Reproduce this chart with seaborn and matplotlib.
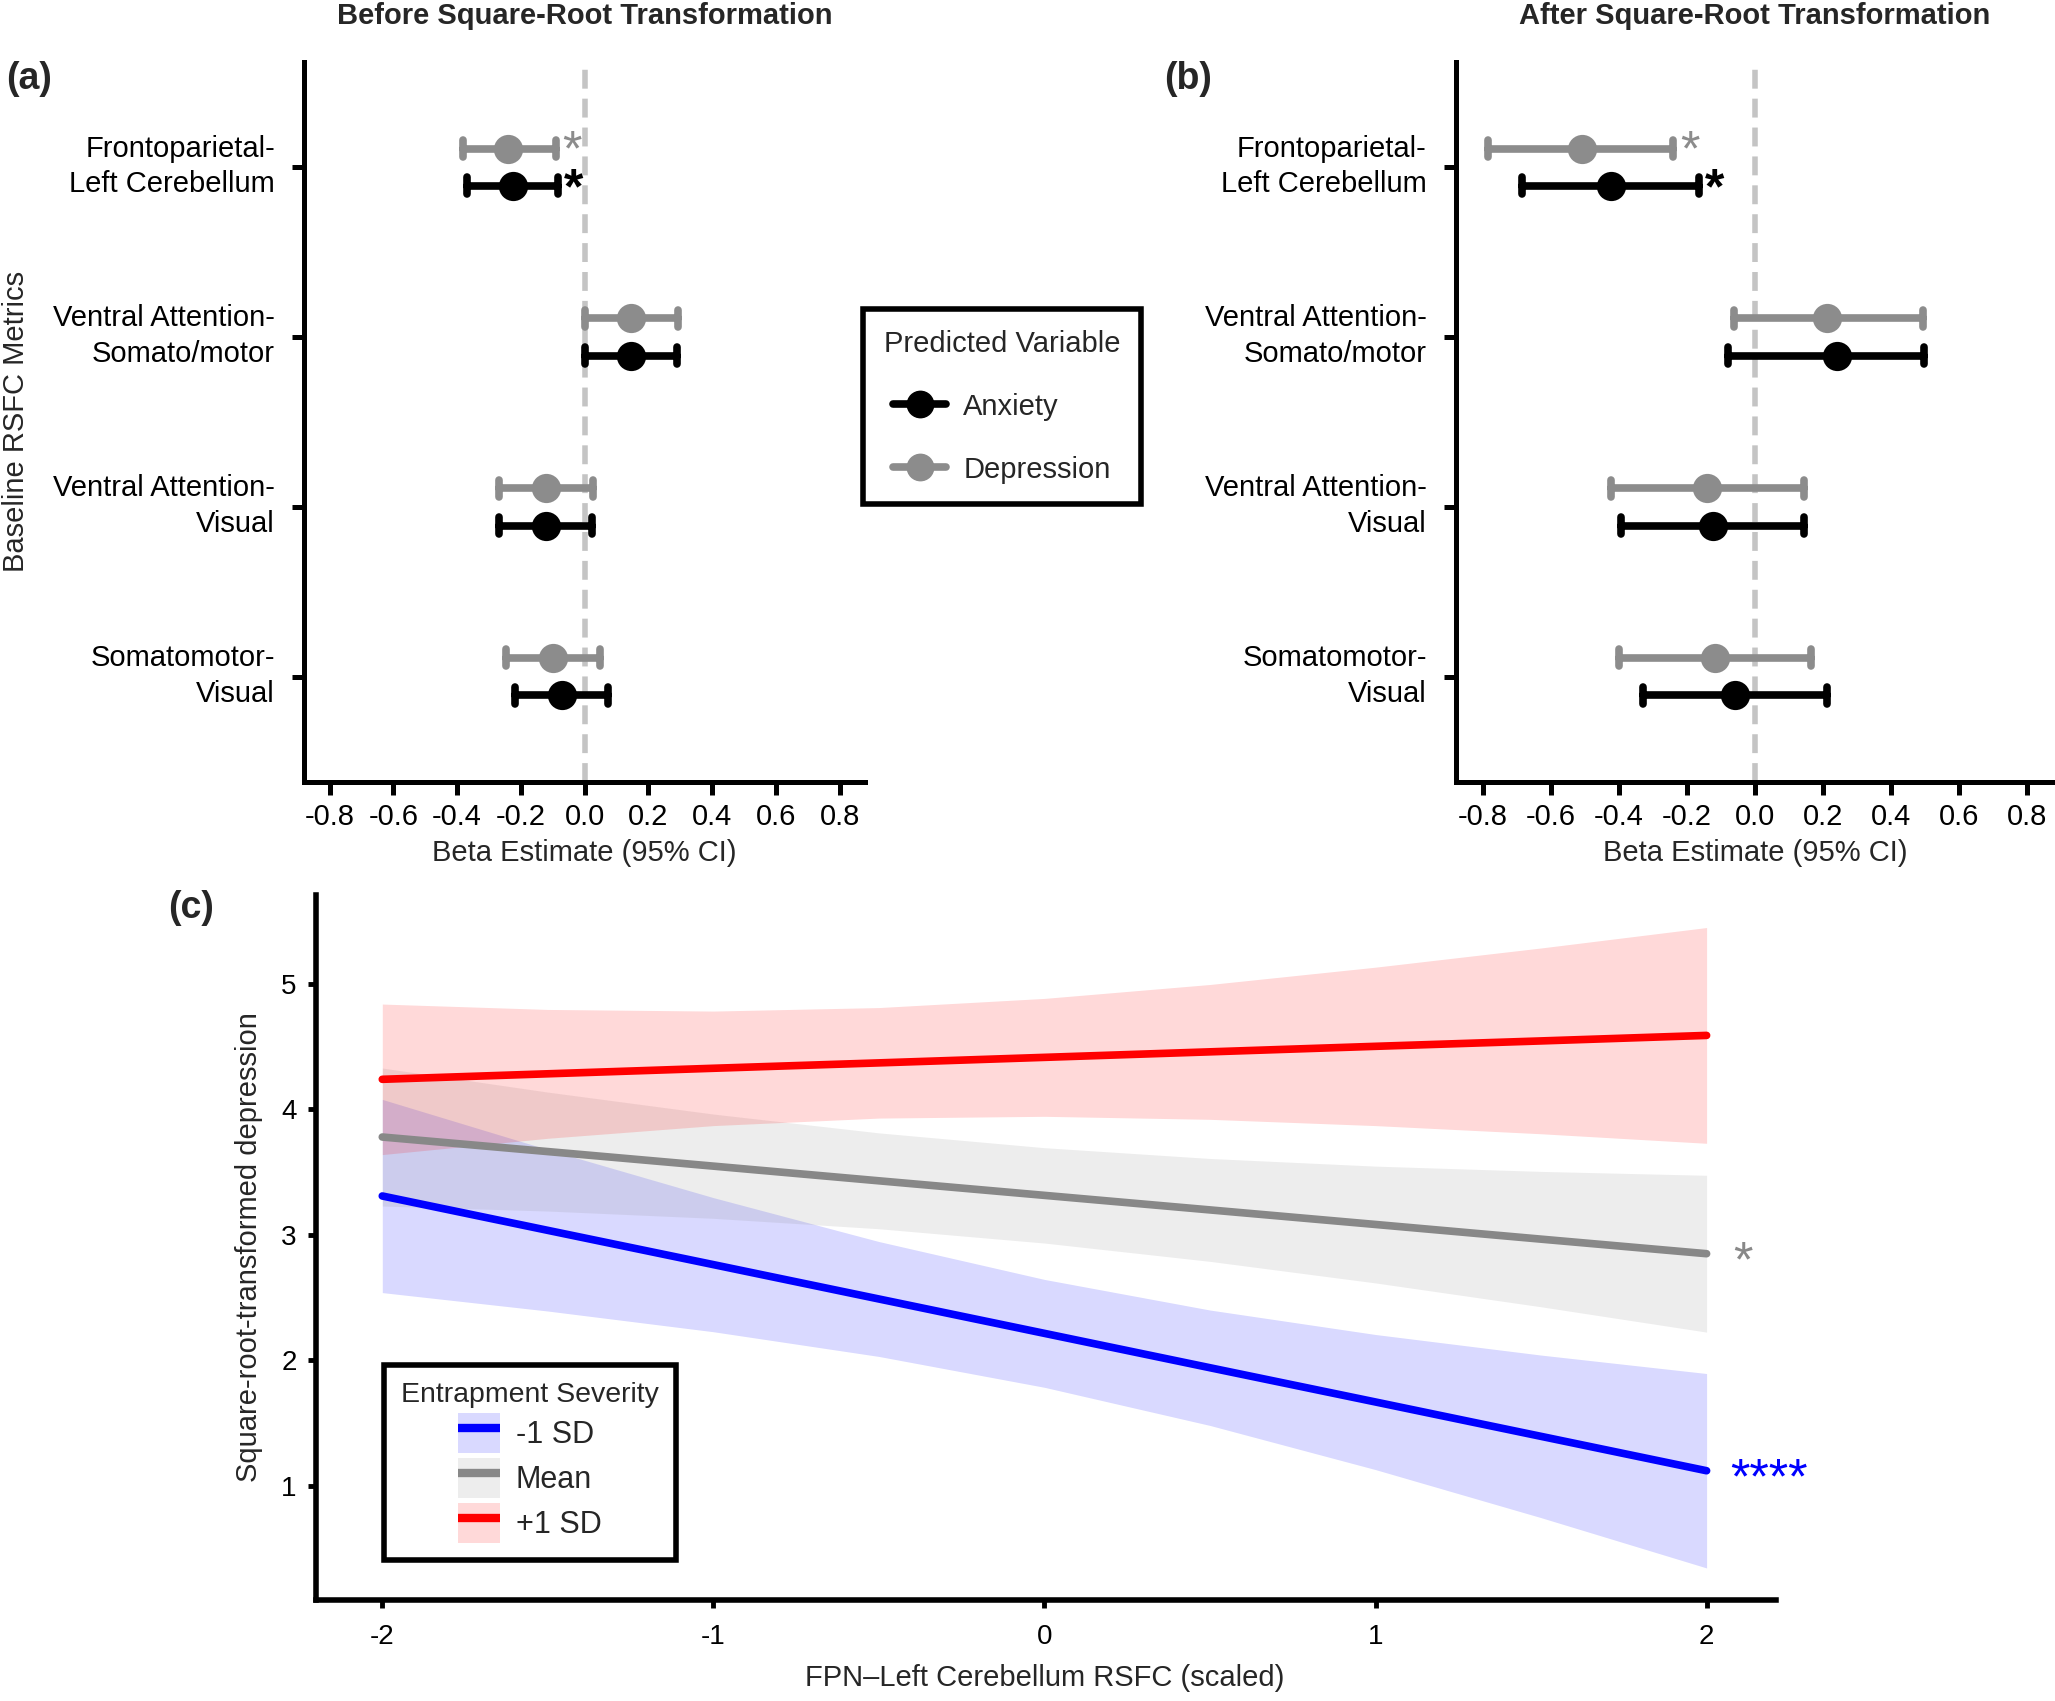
import numpy as np
import pandas as pd
import seaborn as sns
import matplotlib.pyplot as plt
from matplotlib.lines import Line2D
from matplotlib.patches import Patch
from matplotlib.transforms import ScaledTranslation

sns.set_style('white')
plt.rcParams['font.family'] = ['Liberation Sans', 'DejaVu Sans']

## panels (a) and (b): beta estimates with 95% CI
metrics = ['Frontoparietal-\nLeft Cerebellum', 'Ventral Attention-\nSomato/motor',
           'Ventral Attention-\nVisual', 'Somatomotor-\nVisual']

before_anx = [-0.225, 0.146, -0.120, -0.072]
before_anx_lo = [-0.369, 0.000, -0.270, -0.220]
before_anx_hi = [-0.085, 0.290, 0.023, 0.072]
before_dep = [-0.241, 0.146, -0.120, -0.099]
before_dep_lo = [-0.381, 0.000, -0.270, -0.246]
before_dep_hi = [-0.090, 0.293, 0.027, 0.047]

after_anx = [-0.425, 0.240, -0.123, -0.058]
after_anx_lo = [-0.687, -0.078, -0.394, -0.329]
after_anx_hi = [-0.166, 0.497, 0.145, 0.212]
after_dep = [-0.510, 0.213, -0.141, -0.118]
after_dep_lo = [-0.785, -0.063, -0.425, -0.401]
after_dep_hi = [-0.240, 0.494, 0.145, 0.166]

beta_ticks = [-0.8, -0.6, -0.4, -0.2, 0.0, 0.2, 0.4, 0.6, 0.8]
beta_tick_labels = ['-0.8', '-0.6', '-0.4', '-0.2', '0.0', '0.2', '0.4', '0.6', '0.8']

## panel (c): simple slopes with 95% CI bands
fpn_x = [-2, -1.5, -1, -0.5, 0, 0.5, 1, 1.5, 2]
low_fit = [3.310, 3.036, 2.763, 2.489, 2.215, 1.941, 1.668, 1.394, 1.120]
low_lo = [2.540, 2.393, 2.228, 2.031, 1.785, 1.481, 1.129, 0.746, 0.345]
low_hi = [4.080, 3.680, 3.297, 2.947, 2.645, 2.401, 2.206, 2.042, 1.895]
mean_fit = [3.780, 3.664, 3.548, 3.431, 3.315, 3.199, 3.083, 2.966, 2.850]
mean_lo = [3.230, 3.190, 3.132, 3.049, 2.935, 2.789, 2.617, 2.427, 2.225]
mean_hi = [4.330, 4.138, 3.963, 3.813, 3.695, 3.609, 3.548, 3.506, 3.475]
high_fit = [4.240, 4.284, 4.328, 4.371, 4.415, 4.459, 4.503, 4.546, 4.590]
high_lo = [3.640, 3.770, 3.871, 3.931, 3.945, 3.921, 3.871, 3.806, 3.730]
high_hi = [4.840, 4.797, 4.784, 4.812, 4.885, 4.996, 5.134, 5.287, 5.450]
groups = ['-1 SD', 'Mean', '+1 SD']

var_colors = {'Anxiety': 'black', 'Depression': '#8c8c8c'}
group_colors = {'-1 SD': '#0000ff', 'Mean': '#888888', '+1 SD': '#ff0000'}

FS = 21


def forest(fig, ax, est_anx, lo_anx, hi_anx, est_dep, lo_dep, hi_dep):
    rows = []
    for i, m in enumerate(metrics):
        for v in (lo_anx[i], est_anx[i], hi_anx[i]):
            rows.append({'metric': m, 'beta': v, 'var': 'Anxiety'})
        for v in (lo_dep[i], est_dep[i], hi_dep[i]):
            rows.append({'metric': m, 'beta': v, 'var': 'Depression'})
    df = pd.DataFrame(rows)

    ax.axvline(0, color='#c4c4c4', lw=4, dashes=(3.4, 1.8), zorder=0)
    # median of (lo, est, hi) is the estimate, full percentile range is the CI
    sns.pointplot(data=df, x='beta', y='metric', hue='var', order=metrics,
                  hue_order=['Depression', 'Anxiety'], palette=var_colors,
                  estimator='median', errorbar=('pi', 100), dodge=0.22,
                  capsize=0.1, linestyle='none', markersize=19,
                  err_kws={'linewidth': 5.5}, legend=False, orient='h', ax=ax)

    # significance stars for the first metric
    ax.text(hi_dep[0] + 0.02, -0.11 + 0.10, '*', color='#8c8c8c', fontsize=36,
            ha='left', va='baseline')
    ax.text(hi_anx[0] + 0.02, 0.11 + 0.10, '*', color='black', fontsize=36,
            fontweight='bold', ha='left', va='baseline')

    ax.set_xlim(-0.88, 0.88)
    ax.set_ylim(3.62, -0.62)
    ax.set_xticks(beta_ticks)
    ax.set_xticklabels(beta_tick_labels)
    ax.set_xlabel('Beta Estimate (95% CI)', fontsize=FS, labelpad=6)
    ax.set_ylabel('')
    sns.despine(ax=ax)
    for s in ['left', 'bottom']:
        ax.spines[s].set_linewidth(3.6)
        ax.spines[s].set_color('black')
    ax.tick_params(axis='both', direction='out', length=9, width=3.6,
                   labelsize=FS, colors='black', left=True, bottom=True)
    ax.tick_params(axis='y', pad=12)
    ax.tick_params(axis='x', pad=6)
    # nudge the two-line category labels up so they sit centred on the tick
    shift = ScaledTranslation(0, 5.5 / 72, fig.dpi_scale_trans)
    for lab in ax.get_yticklabels():
        lab.set_linespacing(1.35)
        lab.set_transform(lab.get_transform() + shift)


fig = plt.figure(figsize=(20.55, 17.01), dpi=100)

ax_a = fig.add_axes([0.148, 0.5403, 0.273, 0.4233])
forest(fig, ax_a, before_anx, before_anx_lo, before_anx_hi,
       before_dep, before_dep_lo, before_dep_hi)
ax_b = fig.add_axes([0.7085, 0.5403, 0.291, 0.4233])
forest(fig, ax_b, after_anx, after_anx_lo, after_anx_hi,
       after_dep, after_dep_lo, after_dep_hi)

fig.text(0.148 + 0.273 / 2, 0.9906, 'Before Square-Root Transformation',
         fontsize=FS, fontweight='bold', ha='center', va='center')
fig.text(0.7085 + 0.291 / 2, 0.9906, 'After Square-Root Transformation',
         fontsize=FS, fontweight='bold', ha='center', va='center')
fig.text(0.008, 0.752, 'Baseline RSFC Metrics', fontsize=FS, rotation=90,
         ha='center', va='center')
fig.text(0.003, 0.9536, '(a)', fontsize=27, fontweight='bold', ha='left', va='center')
fig.text(0.5664, 0.9536, '(b)', fontsize=27, fontweight='bold', ha='left', va='center')

pv_handles = [Line2D([], [], color='black', lw=5.5, marker='o', markersize=19),
              Line2D([], [], color='#8c8c8c', lw=5.5, marker='o', markersize=19)]
leg1 = fig.legend(handles=pv_handles, labels=['Anxiety', 'Depression'],
                  title='Predicted Variable', loc='center',
                  bbox_to_anchor=(0.4876, 0.761), fontsize=FS, title_fontsize=FS,
                  frameon=True, fancybox=False, edgecolor='black', framealpha=1,
                  handlelength=1.8, handletextpad=0.6, labelspacing=1.2,
                  borderpad=0.7)
leg1.get_frame().set_linewidth(4)

## panel (c)
rows = []
for g, fit, lo, hi in zip(groups, [low_fit, mean_fit, high_fit],
                          [low_lo, mean_lo, high_lo], [low_hi, mean_hi, high_hi]):
    for j, xv in enumerate(fpn_x):
        for v in (lo[j], fit[j], hi[j]):
            rows.append({'x': xv, 'y': v, 'group': g})
dfc = pd.DataFrame(rows)

ax_c = fig.add_axes([0.1538, 0.0594, 0.7105, 0.4145])
sns.lineplot(data=dfc, x='x', y='y', hue='group', hue_order=groups,
             palette=group_colors, estimator='median', errorbar=('pi', 100),
             err_kws={'alpha': 0.15, 'linewidth': 0}, linewidth=5.5,
             legend=False, ax=ax_c)

ax_c.text(2.08, 2.86 - 0.19, '*', color='#888888', fontsize=36,
          ha='left', va='baseline')
ax_c.text(2.07, 1.13 - 0.19, '****', color='#0000ff', fontsize=36,
          ha='left', va='baseline')

ax_c.set_xlim(-2.2, 2.21)
ax_c.set_ylim(0.09, 5.71)
ax_c.set_xticks([-2, -1, 0, 1, 2])
ax_c.set_xticklabels(['-2', '-1', '0', '1', '2'])
ax_c.set_yticks([1, 2, 3, 4, 5])
ax_c.set_xlabel('')
ax_c.set_ylabel('')
sns.despine(ax=ax_c)
for s in ['left', 'bottom']:
    ax_c.spines[s].set_linewidth(4)
    ax_c.spines[s].set_color('black')
ax_c.tick_params(axis='both', direction='out', length=6, width=3.5,
                 labelsize=20, colors='black', left=True, bottom=True, pad=8)
ax_c.tick_params(axis='x', pad=11)

fig.text(0.1212, 0.2669, 'Square-root-transformed depression', fontsize=FS,
         rotation=90, ha='center', va='center')
fig.text(0.5085, 0.0135, 'FPN\u2013Left Cerebellum RSFC (scaled)', fontsize=FS,
         ha='center', va='center')
fig.text(0.0818, 0.466, '(c)', fontsize=27, fontweight='bold', ha='left', va='center')

c_handles = [(Patch(facecolor=group_colors[g], alpha=0.15, edgecolor='none'),
              Line2D([], [], color=group_colors[g], lw=6, solid_capstyle='butt'))
             for g in groups]
leg2 = ax_c.legend(handles=c_handles, labels=groups, title='Entrapment Severity',
                   loc='lower left', bbox_to_anchor=(0.0466, 0.0567),
                   borderaxespad=0, fontsize=22, title_fontsize=20.5,
                   frameon=True, fancybox=False, edgecolor='black', framealpha=1,
                   handlelength=1.37, handleheight=1.65, labelspacing=0.16,
                   handletextpad=0.5, borderpad=0.55)
leg2.get_frame().set_linewidth(4)

fig.savefig('out.png', dpi=100)
